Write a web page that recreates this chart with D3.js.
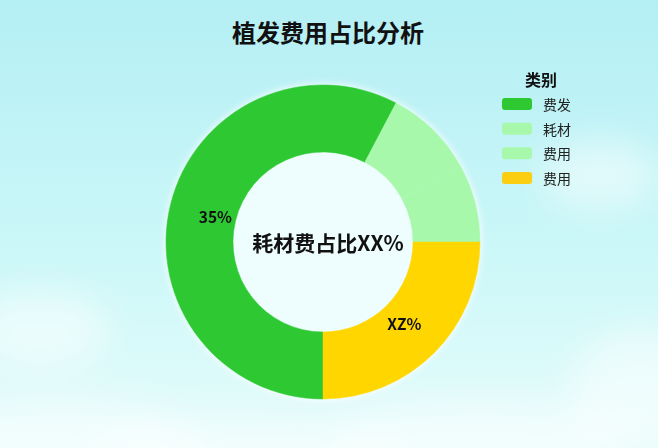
<!DOCTYPE html>
<html>
<head>
<meta charset="utf-8">
<script src="https://cdn.jsdelivr.net/npm/d3@7"></script>
<style>
  body { margin: 0; }
  svg { display: block; font-family: "Noto Sans CJK SC", "Noto Sans", sans-serif; }
</style>
</head>
<body>
<svg width="658" height="448"></svg>
<script>
// chart data
const title = '植发费用占比分析';
const centerText = '耗材费占比XX%';
const legendTitle = '类别';
const categories = ['费发', '耗材', '费用', '费用'];
const values = [57.7, 9.3, 8, 25];
const sliceLabels = ['35%', '', '', 'XZ%'];
const sliceColors = ['#2ec833', '#a8f8ac', '#a8f8ac', '#ffd600'];
const legendColors = ['#2ec833', '#a8f8ac', '#a8f8ac', '#fcce12'];

const svg = d3.select('svg');
const width = 658, height = 448;
const cx = 323, cy = 242;
const outerR = 157, innerR = 90;

// background sky
const defs = svg.append('defs');
const sky = defs.append('linearGradient')
  .attr('id', 'sky').attr('x1', 0).attr('y1', 0).attr('x2', 0).attr('y2', 1);
sky.append('stop').attr('offset', '0%').attr('stop-color', '#b4eff4');
sky.append('stop').attr('offset', '55%').attr('stop-color', '#cbf7f8');
sky.append('stop').attr('offset', '100%').attr('stop-color', '#e6fcfb');

defs.append('filter').attr('id', 'blur')
  .attr('x', '-50%').attr('y', '-50%').attr('width', '200%').attr('height', '200%')
  .append('feGaussianBlur').attr('stdDeviation', 18);
defs.append('filter').attr('id', 'halo')
  .attr('x', '-20%').attr('y', '-20%').attr('width', '140%').attr('height', '140%')
  .append('feGaussianBlur').attr('stdDeviation', 3);

svg.append('rect').attr('width', width).attr('height', height).attr('fill', 'url(#sky)');

// soft clouds
const clouds = [
  [60, 440, 140, 40], [250, 450, 150, 30], [480, 440, 150, 40], [640, 390, 70, 60],
  [600, 175, 60, 35], [40, 330, 70, 40]
];
svg.append('g').attr('filter', 'url(#blur)')
  .selectAll('ellipse').data(clouds).join('ellipse')
  .attr('cx', d => d[0]).attr('cy', d => d[1])
  .attr('rx', d => d[2]).attr('ry', d => d[3])
  .attr('fill', '#ffffff').attr('opacity', 0.5);

// title
svg.append('text')
  .attr('x', 328).attr('y', 31)
  .attr('text-anchor', 'middle').attr('dominant-baseline', 'central')
  .attr('font-size', 24).attr('font-weight', 700).attr('fill', '#111')
  .text(title);

// donut
const g = svg.append('g').attr('transform', `translate(${cx},${cy})`);

g.append('circle').attr('r', outerR + 2).attr('fill', '#ffffff')
  .attr('opacity', 0.7).attr('filter', 'url(#halo)');
g.append('circle').attr('r', innerR).attr('fill', '#eefdfd');

const pie = d3.pie().sort(null).startAngle(Math.PI).endAngle(3 * Math.PI);
const arcs = pie(values);
const arc = d3.arc().innerRadius(innerR).outerRadius(outerR);
const labelArc = d3.arc().innerRadius(115).outerRadius(115);

g.selectAll('path').data(arcs).join('path')
  .attr('d', arc)
  .attr('fill', (d, i) => sliceColors[i])
  .attr('stroke', (d, i) => sliceColors[i])
  .attr('stroke-width', 0.5);

g.selectAll('text.lbl').data(arcs).join('text')
  .attr('class', 'lbl')
  .attr('transform', d => `translate(${labelArc.centroid(d)})`)
  .attr('dx', (d, i) => i === 0 ? 4 : 0)
  .attr('dy', (d, i) => i === 0 ? 2 : 0)
  .attr('text-anchor', 'middle').attr('dominant-baseline', 'central')
  .attr('font-size', 15.5).attr('font-weight', 700).attr('fill', '#111')
  .text((d, i) => sliceLabels[i]);

g.append('text')
  .attr('x', 5).attr('y', 0)
  .attr('text-anchor', 'middle').attr('dominant-baseline', 'central')
  .attr('font-size', 21).attr('font-weight', 700).attr('fill', '#111')
  .text(centerText);

// legend
const legend = svg.append('g');
legend.append('text')
  .attr('x', 541).attr('y', 79)
  .attr('text-anchor', 'middle').attr('dominant-baseline', 'central')
  .attr('font-size', 16).attr('font-weight', 700).attr('fill', '#111')
  .text(legendTitle);

const rowY = d3.scalePoint().domain(d3.range(categories.length)).range([104, 178]);
const rows = legend.selectAll('g.row').data(categories).join('g')
  .attr('class', 'row')
  .attr('transform', (d, i) => `translate(0,${rowY(i)})`);
rows.append('rect')
  .attr('x', 502).attr('y', -6).attr('width', 30).attr('height', 12)
  .attr('rx', 3).attr('fill', (d, i) => legendColors[i]);
rows.append('text')
  .attr('x', 543).attr('y', 0).attr('dominant-baseline', 'central')
  .attr('font-size', 14).attr('fill', '#222')
  .text(d => d);
</script>
</body>
</html>
